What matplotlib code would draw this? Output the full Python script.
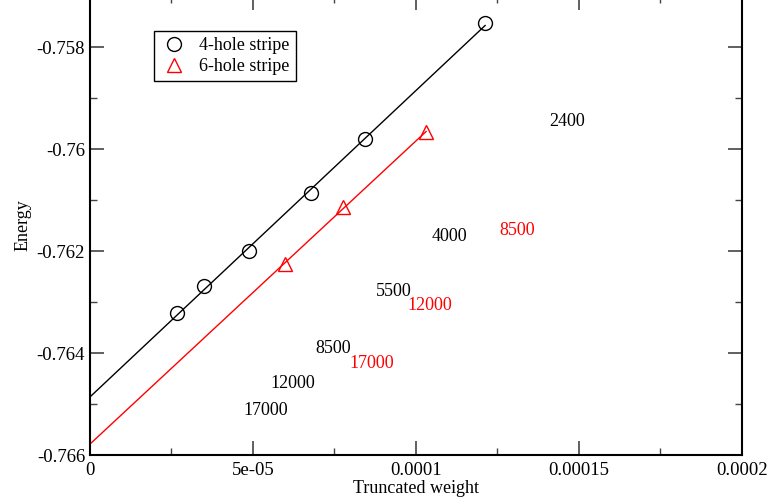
import matplotlib
matplotlib.use("Agg")
import matplotlib.pyplot as plt
import numpy as np
from matplotlib.ticker import MultipleLocator, FixedLocator, FixedFormatter

plt.rcParams['font.family'] = ['Liberation Serif', 'DejaVu Serif']

# 4-hole stripe (black circles)
w4 = [2.67e-5, 3.50e-5, 4.88e-5, 6.78e-5, 8.44e-5, 1.212e-4]
e4 = [-0.76322, -0.76269, -0.76200, -0.76086, -0.75980, -0.75753]

# 6-hole stripe (red triangles)
w6 = [5.98e-5, 7.76e-5, 1.031e-4]
e6 = [-0.76225, -0.76114, -0.75967]

# bond dimension labels: (text, x, y baseline)
labels4 = [("2400", 1.463e-4, -0.75955), ("4000", 1.104e-4, -0.76180),
           ("5500", 0.933e-4, -0.76288), ("8500", 0.745e-4, -0.76400),
           ("12000", 0.623e-4, -0.76469), ("17000", 0.540e-4, -0.76522)]
labels6 = [("8500", 1.310e-4, -0.76169), ("12000", 1.043e-4, -0.76316),
           ("17000", 0.865e-4, -0.76429)]

xticks = [0, 5e-5, 1e-4, 1.5e-4, 2e-4]
xticklabels = ["0", "5e-05", "0.0001", "0.00015", "0.0002"]
yticks = [-0.766, -0.764, -0.762, -0.760, -0.758]
yticklabels = ["-0.766", "-0.764", "-0.762", "-0.76", "-0.758"]

fig = plt.figure(figsize=(7.67, 5.04), dpi=100)
ax = fig.add_axes([0.1173, 0.0972, 0.8501, 0.9107])

# linear fits extrapolated to zero truncated weight
for w, e, col in [(w4, e4, 'black'), (w6, e6, 'red')]:
    p = np.polyfit(w, e, 1)
    xs = np.array([0, max(w)])
    ax.plot(xs, np.polyval(p, xs), color=col, lw=1)

ax.plot(w4, e4, 'o', mfc='none', mec='black', ms=10, mew=1, label='4-hole stripe')
ax.plot(w6, e6, '^', mfc='none', mec='red', ms=10, mew=1, label='6-hole stripe')

for t, x, y in labels4:
    ax.text(x, y, t, color='black', fontsize=13, ha='center', va='baseline')
for t, x, y in labels6:
    ax.text(x, y, t, color='red', fontsize=13, ha='center', va='baseline')

ax.set_xlim(0, 2e-4)
ax.set_ylim(-0.766, -0.757)
ax.xaxis.set_major_locator(FixedLocator(xticks))
ax.xaxis.set_major_formatter(FixedFormatter(xticklabels))
ax.yaxis.set_major_locator(FixedLocator(yticks))
ax.yaxis.set_major_formatter(FixedFormatter(yticklabels))
ax.xaxis.set_minor_locator(MultipleLocator(2.5e-5))
ax.yaxis.set_minor_locator(MultipleLocator(0.001))
ax.tick_params(which='both', direction='in', top=True, right=True, labelsize=13.5, color='#444444')
ax.tick_params(which='major', length=10, width=1.2)
ax.tick_params(which='minor', length=5, width=1)
ax.tick_params(axis='x', pad=5)
for s in ax.spines.values():
    s.set_linewidth(1.5)

ax.set_xlabel('Truncated weight', fontsize=13, labelpad=1)
ax.set_ylabel('Energy', fontsize=13, labelpad=4)

leg = ax.legend(loc='upper left', bbox_to_anchor=(0.098, 0.924), borderaxespad=0,
                fontsize=13, fancybox=False, edgecolor='black', framealpha=1,
                handletextpad=0.65, borderpad=0.35, labelspacing=0.2, handlelength=1.5)
leg.get_frame().set_linewidth(1)

fig.savefig('out.png', dpi=100)
